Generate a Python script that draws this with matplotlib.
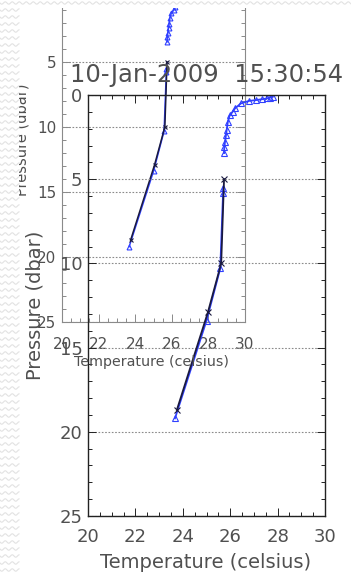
import matplotlib
matplotlib.use("Agg")
import matplotlib.pyplot as plt
import numpy as np
from matplotlib.patches import Rectangle
from matplotlib.ticker import MultipleLocator, FuncFormatter

# blue profile (triangles), near-surface part and deep part
blue_surf_p = [0.10, 0.15, 0.20, 0.25, 0.30, 0.35, 0.50, 0.80, 1.00, 1.20, 1.60, 2.10, 2.40, 2.80, 3.10, 3.45]
blue_surf_t = [27.80, 27.70, 27.55, 27.35, 27.10, 26.80, 26.45, 26.20, 26.10, 25.98, 25.90, 25.85, 25.82, 25.78, 25.75, 25.74]
blue_deep_p = [5.5, 5.8, 10.3, 13.4, 19.2]
blue_deep_t = [25.70, 25.70, 25.58, 25.00, 23.67]
# black profile (x markers)
black_p = [5.0, 10.0, 12.9, 18.7]
black_t = [25.74, 25.62, 25.06, 23.75]

title = "10-Jan-2009  15:30:54"
xlab = "Temperature (celsius)"
ylab = "Pressure (dbar)"

W, H = 351, 574
fig = plt.figure(figsize=(W / 100, H / 100), dpi=100)
fig.patch.set_facecolor("white")
txt = "#505050"


def fx(px):
    return px / W


def fy(py):
    return 1 - py / H


def draw_profile(ax, ms, lw):
    ax.plot(blue_surf_t, blue_surf_p, color="#3040ff", lw=lw, marker="^", ms=ms,
            mfc="none", mew=0.8)
    ax.plot(blue_deep_t, blue_deep_p, color="#3040ff", lw=lw, marker="^", ms=ms,
            mfc="none", mew=0.8)
    ax.plot(black_t, black_p, color="#1a1a40", lw=lw, marker="x", ms=ms, mew=0.8)


def style(ax, spine_col, fs, xpad, ypad, lw):
    ax.set_xlim(20, 30)
    ax.set_ylim(25, 0)
    ax.xaxis.set_major_locator(MultipleLocator(2))
    ax.xaxis.set_minor_locator(MultipleLocator(0.5))
    ax.yaxis.set_major_locator(MultipleLocator(5))
    ax.yaxis.set_minor_locator(MultipleLocator(1))
    ax.tick_params(which="both", direction="in", top=True, right=True,
                   colors=spine_col, labelcolor=txt, labelsize=fs, width=0.7)
    ax.tick_params(which="major", length=6)
    ax.tick_params(which="minor", length=3)
    ax.tick_params(axis="x", pad=xpad)
    ax.tick_params(axis="y", pad=ypad)
    for s in ax.spines.values():
        s.set_color(spine_col)
        s.set_linewidth(lw)
    ax.grid(axis="y", which="major", color="#8a8a8a", ls=(0, (1.5, 1.5)), lw=0.8)
    ax.set_facecolor("none")


# back (smaller) plot, its top edge lies just above the picture
back = fig.add_axes([fx(62), fy(322), fx(245 - 62), (322 + 3) / H])
draw_profile(back, 3.5, 1.1)
style(back, "#8a8a8a", 11, 11, 4, 0.8)
# the "0" label of the back plot falls outside the picture
back.yaxis.set_major_formatter(FuncFormatter(lambda v, pos: "" if v == 0 else f"{v:g}"))
fig.text(fx(152), fy(362), xlab, ha="center", va="center", fontsize=10.3, color=txt)
fig.text(fx(22), fy(140), ylab, ha="center", va="center", fontsize=10.5, color=txt,
         rotation=90)

# front (larger) plot
front = fig.add_axes([fx(88), fy(516), fx(325 - 88), (516 - 95) / H])
draw_profile(front, 4, 1.3)
style(front, "#222222", 13, 9, 4, 1.0)
fig.text(fx(206), fy(562), xlab, ha="center", va="center", fontsize=14, color=txt)
fig.text(fx(35), fy(305), ylab, ha="center", va="center", fontsize=14, color=txt,
         rotation=90)
fig.text(fx(207), fy(75), title, ha="center", va="center", fontsize=17.5, color=txt)

# wavy page border on the left and top
fig.patches.append(Rectangle((0, 0), fx(19), 1, transform=fig.transFigure,
                             facecolor="white", edgecolor="none", zorder=10))
fig.patches.append(Rectangle((0, fy(8)), 1, 8 / H, transform=fig.transFigure,
                             facecolor="white", edgecolor="none", zorder=10))
xs = np.linspace(0, 19, 60)
for row in np.arange(10, H, 7):
    fig.add_artist(plt.Line2D(fx(xs), fy(row + 1.2 * np.sin(xs / 7 * 2 * np.pi)),
                              color="#e2e2e2", lw=0.8, zorder=11))
xs2 = np.linspace(0, W, 400)
fig.add_artist(plt.Line2D(fx(xs2), fy(3 + 1.2 * np.sin(xs2 / 7 * 2 * np.pi)),
                          color="#e2e2e2", lw=0.8, zorder=11))

fig.savefig("out.png", dpi=100)
